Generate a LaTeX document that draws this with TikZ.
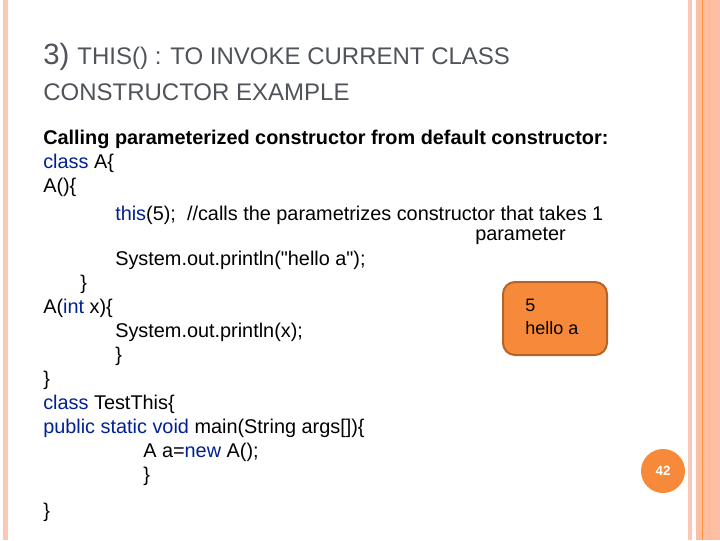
\documentclass[tikz,border=0pt]{standalone}
\usepackage{fontspec}
\setmainfont{Liberation Sans}
\definecolor{kw}{RGB}{0,32,150}
\definecolor{ttl}{RGB}{80,84,90}
\definecolor{org}{RGB}{247,138,58}
\definecolor{orgd}{RGB}{180,100,40}
\definecolor{pk}{RGB}{250,200,180}
\definecolor{pk2}{RGB}{252,190,165}
\begin{document}
\begin{tikzpicture}[x=0.75pt,y=-0.75pt,
  code/.style={anchor=base west,inner sep=0pt,font=\fontsize{14.9pt}{17pt}\selectfont},
  ttlst/.style={anchor=base west,inner sep=0pt,text=ttl}]
\useasboundingbox (0,0) rectangle (720,540);
\fill[white] (0,0) rectangle (720,540);
\fill[pk] (3,0) rectangle (8,540);
\fill[pk] (688,0) rectangle (692,540);
\fill[pk2] (696,0) rectangle (720,540);
\fill[orange!70!pk] (702,0) rectangle (703,540);
\fill[pk!85!orange] (708,0) rectangle (711,540);
\node[ttlst,font=\fontsize{22pt}{26pt}\selectfont] (t1) at (43,64) {3) {\fontsize{18pt}{21pt}\selectfont THIS() : TO INVOKE CURRENT CLASS}};
\node[ttlst,font=\fontsize{18pt}{21pt}\selectfont] (t2) at (43,100) {CONSTRUCTOR EXAMPLE};
\node[code,font=\bfseries\fontsize{14.9pt}{17pt}\selectfont] (l1) at (43,144) {Calling parameterized constructor from default constructor:};
\node[code] (l2) at (43,168) {\textcolor{kw}{class} A\{};
\node[code] (l3) at (43,192) {A()\{};
\node[code] (l4) at (115,220) {\textcolor{kw}{this}(5);\ \ //calls the parametrizes constructor that takes 1};
\node[code] (l5) at (475,240) {parameter};
\node[code] (l6) at (115,265) {System.out.println(\textquotedbl hello a\textquotedbl);};
\node[code] (l7) at (80,289) {\}};
\node[code] (l8) at (43,313) {A(\textcolor{kw}{int} x)\{};
\node[code] (l9) at (115,337) {System.out.println(x);};
\node[code] (l10) at (115,361) {\}};
\node[code] (l11) at (43,385) {\}};
\node[code] (l12) at (43,409) {\textcolor{kw}{class} TestThis\{};
\node[code] (l13) at (43,433) {\textcolor{kw}{public static void} main(String args[])\{};
\node[code] (l14) at (143,457) {A a=\textcolor{kw}{new} A();};
\node[code] (l15) at (143,481) {\}};
\node[code] (l16) at (43,517) {\}};
\draw[orgd,line width=1.5pt,fill=org,rounded corners=9pt] (503,282) rectangle (607,355);
\node[code,font=\fontsize{13.5pt}{16pt}\selectfont] (o1) at (525,311) {5};
\node[code,font=\fontsize{13.5pt}{16pt}\selectfont] (o2) at (525,334) {hello a};
\node[circle,fill=org,minimum size=33pt,inner sep=0pt,text=white,font=\bfseries\fontsize{10pt}{11pt}\selectfont] (pg) at (663,471) {42};
\end{tikzpicture}
\end{document}
